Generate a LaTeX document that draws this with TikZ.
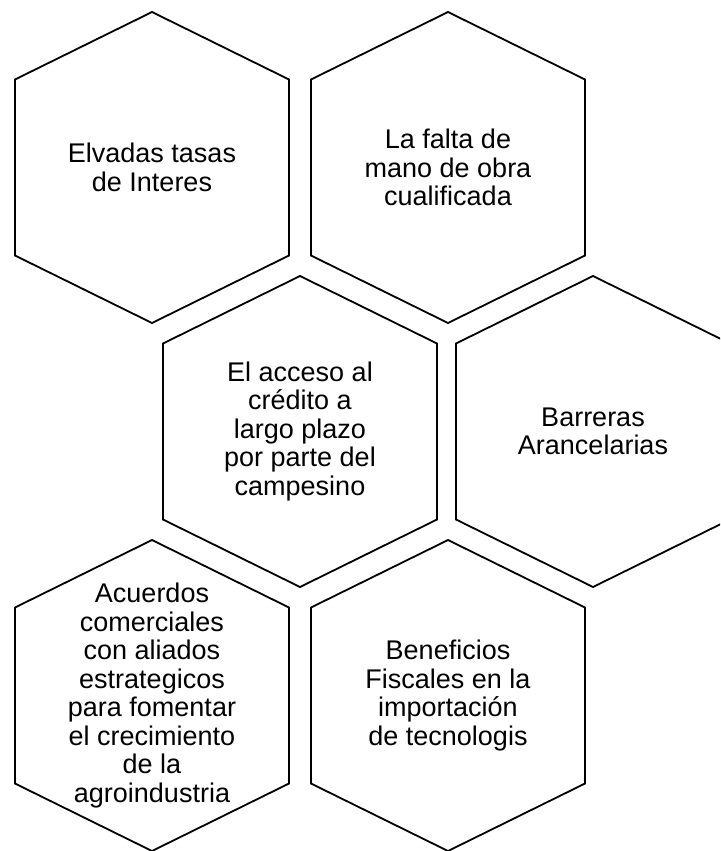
\documentclass[tikz,border=0pt]{standalone}
\usepackage{fontspec}
\setmainfont{Liberation Sans}
\tikzset{
  hexline/.style={draw=black, line width=1.8pt, line join=miter},
  lbl/.style={align=center, font=\fontsize{27}{28.5}\selectfont, text=black, inner sep=0pt},
  hexa/.pic={\draw[hexline] (0,-155.5) -- (137,-88) -- (137,88) -- (0,155.5) -- (-137,88) -- (-137,-88) -- cycle;}
}
\begin{document}
\begin{tikzpicture}[x=1pt,y=-1pt]
\clip (0,0) rectangle (720,851);
\fill[white] (0,0) rectangle (720,851);
\coordinate (c1) at (152,167.5);
\coordinate (c2) at (448,167.5);
\coordinate (c3) at (300,431.5);
\coordinate (c4) at (593,431.5);
\coordinate (c5) at (152,695.5);
\coordinate (c6) at (448,695.5);
\foreach \c in {c1,c2,c3,c4,c5,c6} { \pic at (\c) {hexa}; }
\node[lbl] (t1) at (c1) {Elvadas tasas\\de Interes};
\node[lbl] (t2) at (c2) {La falta de\\mano de obra\\cualificada};
\node[lbl] (t3) at (c3) {El acceso al\\crédito a\\largo plazo\\por parte del\\campesino};
\node[lbl] (t4) at (c4) {Barreras\\Arancelarias};
\node[lbl] (t5) at (c5) {Acuerdos\\comerciales\\con aliados\\estrategicos\\para fomentar\\el crecimiento\\de la\\agroindustria};
\node[lbl] (t6) at (c6) {Beneficios\\Fiscales en la\\importación\\de tecnologis};
\end{tikzpicture}
\end{document}
